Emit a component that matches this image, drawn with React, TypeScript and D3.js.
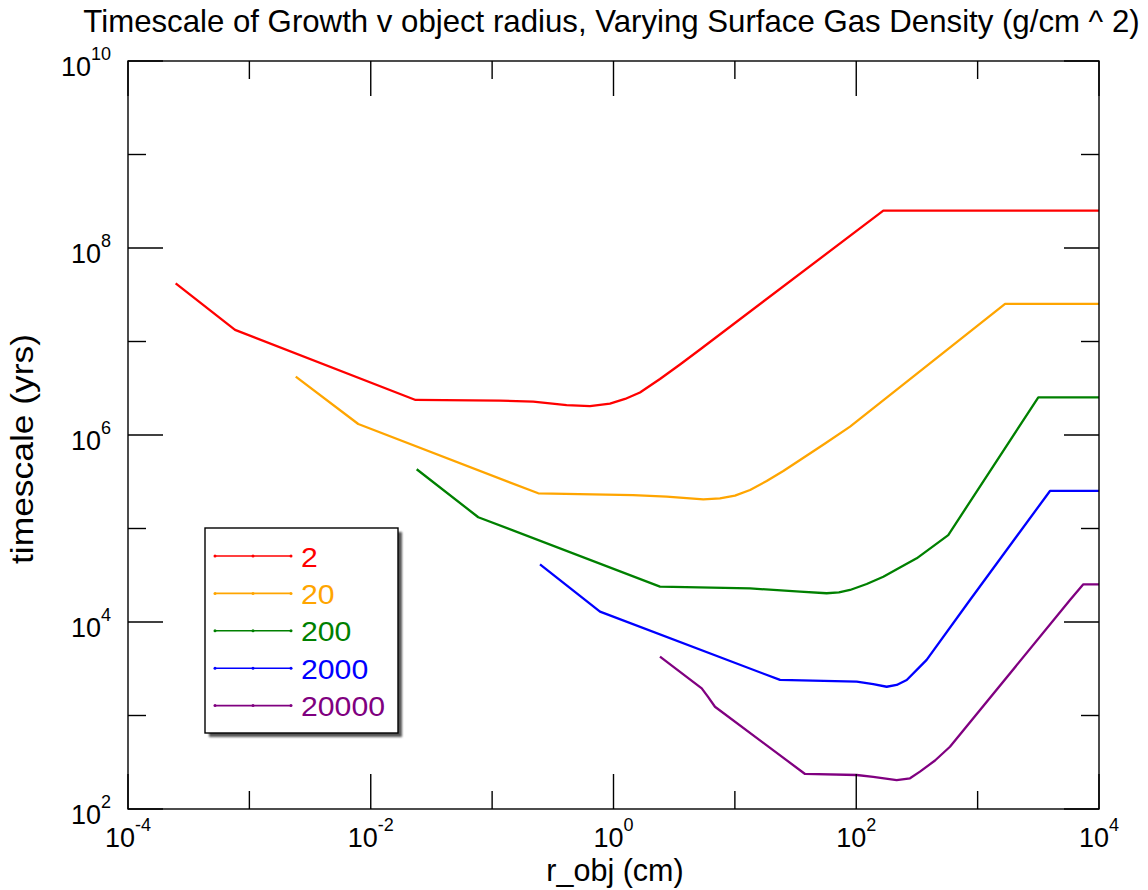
import React from 'react';
import * as d3 from 'd3';

const W = 1148;
const H = 890;
const PLOT = { left: 128, right: 1099, top: 61, bottom: 809 };
const FONT = '"Liberation Sans", Arial, Helvetica, sans-serif';

const TITLE = 'Timescale of Growth v object radius, Varying Surface Gas Density (g/cm ^ 2)';
const X_TITLE = 'r_obj (cm)';
const Y_TITLE = 'timescale (yrs)';

const X_EXPONENTS = [-4, -3, -2, -1, 0, 1, 2, 3, 4];
const Y_EXPONENTS = [2, 3, 4, 5, 6, 7, 8, 9, 10];

const seriesNames = ['2', '20', '200', '2000', '20000'];
const seriesColors = ['#ff0000', '#ffa500', '#008000', '#0000ff', '#800080'];

// Surface density 2
const r2 = [2.47e-4, 7.62e-4, 2.34e-2, 0.116, 0.218, 0.411, 0.64, 0.935, 1.245, 1.652, 2.415, 3.532, 5.164, 167.1, 1e4];
const t2 = [4.19e7, 1.33e7, 2.37e6, 2.33e6, 2.27e6, 2.09e6, 2.04e6, 2.17e6, 2.43e6, 2.85e6, 3.97e6, 5.68e6, 8.21e6, 2.51e8, 2.51e8];

// Surface density 20
const r20 = [2.41e-3, 7.89e-3, 0.24, 1.449, 2.742, 5.495, 7.534, 10.02, 13.34, 18.28, 25.06, 34.43, 55.34, 88.92, 1683, 1e4];
const t20 = [4.21e6, 1.31e6, 2.38e5, 2.28e5, 2.19e5, 2.05e5, 2.1e5, 2.25e5, 2.58e5, 3.22e5, 4.12e5, 5.41e5, 8.11e5, 1.23e6, 2.52e7, 2.52e7];

// Surface density 200
const r200 = [2.39e-2, 7.69e-2, 2.415, 13.34, 34.43, 57.02, 72.0, 88.92, 121.9, 167.1, 229.1, 314.8, 572.8, 3162, 1e4];
const t200 = [4.3e5, 1.32e5, 2.39e4, 2.29e4, 2.11e4, 2.03e4, 2.07e4, 2.2e4, 2.55e4, 3.05e4, 3.83e4, 4.8e4, 8.51e4, 2.53e6, 2.53e6];

// Surface density 2000
const r2000 = [0.248, 0.774, 23.55, 100.9, 138.0, 178.2, 215.3, 260.6, 335.0, 380.2, 865.0, 3945, 1e4];
const t2000 = [4.14e4, 1.29e4, 2.4e3, 2.3e3, 2.17e3, 2.03e3, 2.12e3, 2.4e3, 3.33e3, 3.93e3, 1.72e4, 2.52e5, 2.52e5];

// Surface density 20000
const r20000 = [2.415, 5.333, 6.012, 6.855, 37.84, 100.9, 138.0, 215.3, 277.3, 335.0, 445.7, 591.6, 5768, 7430, 1e4];
const t20000 = [4.26e3, 1.95e3, 1.58e3, 1.24e3, 237, 231, 221, 204, 213, 251, 330, 463, 1.72e4, 2.53e4, 2.53e4];

const seriesR = [r2, r20, r200, r2000, r20000];
const seriesT = [t2, t20, t200, t2000, t20000];

const LEGEND = { x: 205, y: 528, w: 193, h: 205, rowY0: 556, rowStep: 37.4, lineX0: 215, lineX1: 291, textX: 301, digitW: 16.8 };

export default function App() {
  const x = d3.scaleLog().domain([1e-4, 1e4]).range([PLOT.left, PLOT.right]);
  const y = d3.scaleLog().domain([1e2, 1e10]).range([PLOT.bottom, PLOT.top]);

  const line = d3
    .line<[number, number]>()
    .x((d) => x(d[0]))
    .y((d) => y(d[1]))
    .curve(d3.curveLinear);

  const majorLen = 35;
  const minorLen = 18;

  return (
    <svg
      width={W}
      height={H}
      style={{ position: 'absolute', left: 0, top: 0, background: '#fff' }}
      fontFamily={FONT}
    >
      <defs>
        <filter id="shadowBlur" x="-10%" y="-10%" width="130%" height="130%">
          <feGaussianBlur stdDeviation="1.2" />
        </filter>
      </defs>
      <rect x={0} y={0} width={W} height={H} fill="#fff" />

      {/* title */}
      <text x={611.5} y={31.5} fontSize={31.2} textAnchor="middle" fill="#000">
        {TITLE}
      </text>

      {/* series */}
      {seriesR.map((rs, i) => {
        const pts: [number, number][] = rs.map((r, j) => [r, seriesT[i][j]]);
        return (
          <path
            key={seriesNames[i]}
            d={line(pts) || ''}
            fill="none"
            stroke={seriesColors[i]}
            strokeWidth={2.3}
            strokeLinejoin="round"
          />
        );
      })}

      {/* frame */}
      <rect
        x={PLOT.left}
        y={PLOT.top}
        width={PLOT.right - PLOT.left}
        height={PLOT.bottom - PLOT.top}
        fill="none"
        stroke="#000"
        strokeWidth={1.4}
      />

      {/* x ticks */}
      {X_EXPONENTS.map((e) => {
        const px = x(Math.pow(10, e));
        const len = e % 2 === 0 ? majorLen : minorLen;
        return (
          <g key={'xt' + e} stroke="#000" strokeWidth={1.4}>
            <line x1={px} x2={px} y1={PLOT.bottom} y2={PLOT.bottom - len} />
            <line x1={px} x2={px} y1={PLOT.top} y2={PLOT.top + len} />
          </g>
        );
      })}
      {/* y ticks */}
      {Y_EXPONENTS.map((e) => {
        const py = y(Math.pow(10, e));
        const len = e % 2 === 0 ? majorLen : minorLen;
        return (
          <g key={'yt' + e} stroke="#000" strokeWidth={1.4}>
            <line x1={PLOT.left} x2={PLOT.left + len} y1={py} y2={py} />
            <line x1={PLOT.right} x2={PLOT.right - len} y1={py} y2={py} />
          </g>
        );
      })}

      {/* x tick labels */}
      {X_EXPONENTS.filter((e) => e % 2 === 0).map((e) => {
        const px = x(Math.pow(10, e));
        return (
          <text key={'xl' + e} x={px} y={PLOT.bottom + 37.5} fontSize={27} textAnchor="middle" fill="#000">
            <tspan>10</tspan>
            <tspan dy={-16} fontSize={18}>{String(e)}</tspan>
          </text>
        );
      })}
      {/* y tick labels */}
      {Y_EXPONENTS.filter((e) => e % 2 === 0).map((e) => {
        const py = y(Math.pow(10, e));
        return (
          <text key={'yl' + e} x={111} y={py + 15} fontSize={27} textAnchor="end" fill="#000">
            <tspan>10</tspan>
            <tspan dy={-16} fontSize={18}>{String(e)}</tspan>
          </text>
        );
      })}

      {/* axis titles */}
      <text x={615} y={881} fontSize={30.5} textAnchor="middle" fill="#000">
        {X_TITLE}
      </text>
      <text
        transform={`translate(33,449) rotate(-90)`}
        fontSize={30.5}
        textAnchor="middle"
        textLength={230}
        lengthAdjust="spacingAndGlyphs"
        fill="#000"
      >
        {Y_TITLE}
      </text>

      {/* legend */}
      <rect
        x={LEGEND.x + 4}
        y={LEGEND.y + 4}
        width={LEGEND.w}
        height={LEGEND.h}
        fill="#555"
        filter="url(#shadowBlur)"
      />
      <rect x={LEGEND.x} y={LEGEND.y} width={LEGEND.w} height={LEGEND.h} fill="#fff" stroke="#000" strokeWidth={1.4} />
      {seriesNames.map((name, i) => {
        const ry = LEGEND.rowY0 + i * LEGEND.rowStep;
        const mid = (LEGEND.lineX0 + LEGEND.lineX1) / 2;
        return (
          <g key={'lg' + name}>
            <line x1={LEGEND.lineX0} x2={LEGEND.lineX1} y1={ry} y2={ry} stroke={seriesColors[i]} strokeWidth={1.6} />
            {[LEGEND.lineX0, mid, LEGEND.lineX1].map((cx) => (
              <circle key={cx} cx={cx} cy={ry} r={1.5} fill={seriesColors[i]} />
            ))}
            <text
              x={LEGEND.textX}
              y={ry + 10.5}
              fontSize={27}
              textLength={LEGEND.digitW * name.length}
              lengthAdjust="spacingAndGlyphs"
              fill={seriesColors[i]}
            >
              {name}
            </text>
          </g>
        );
      })}
    </svg>
  );
}
